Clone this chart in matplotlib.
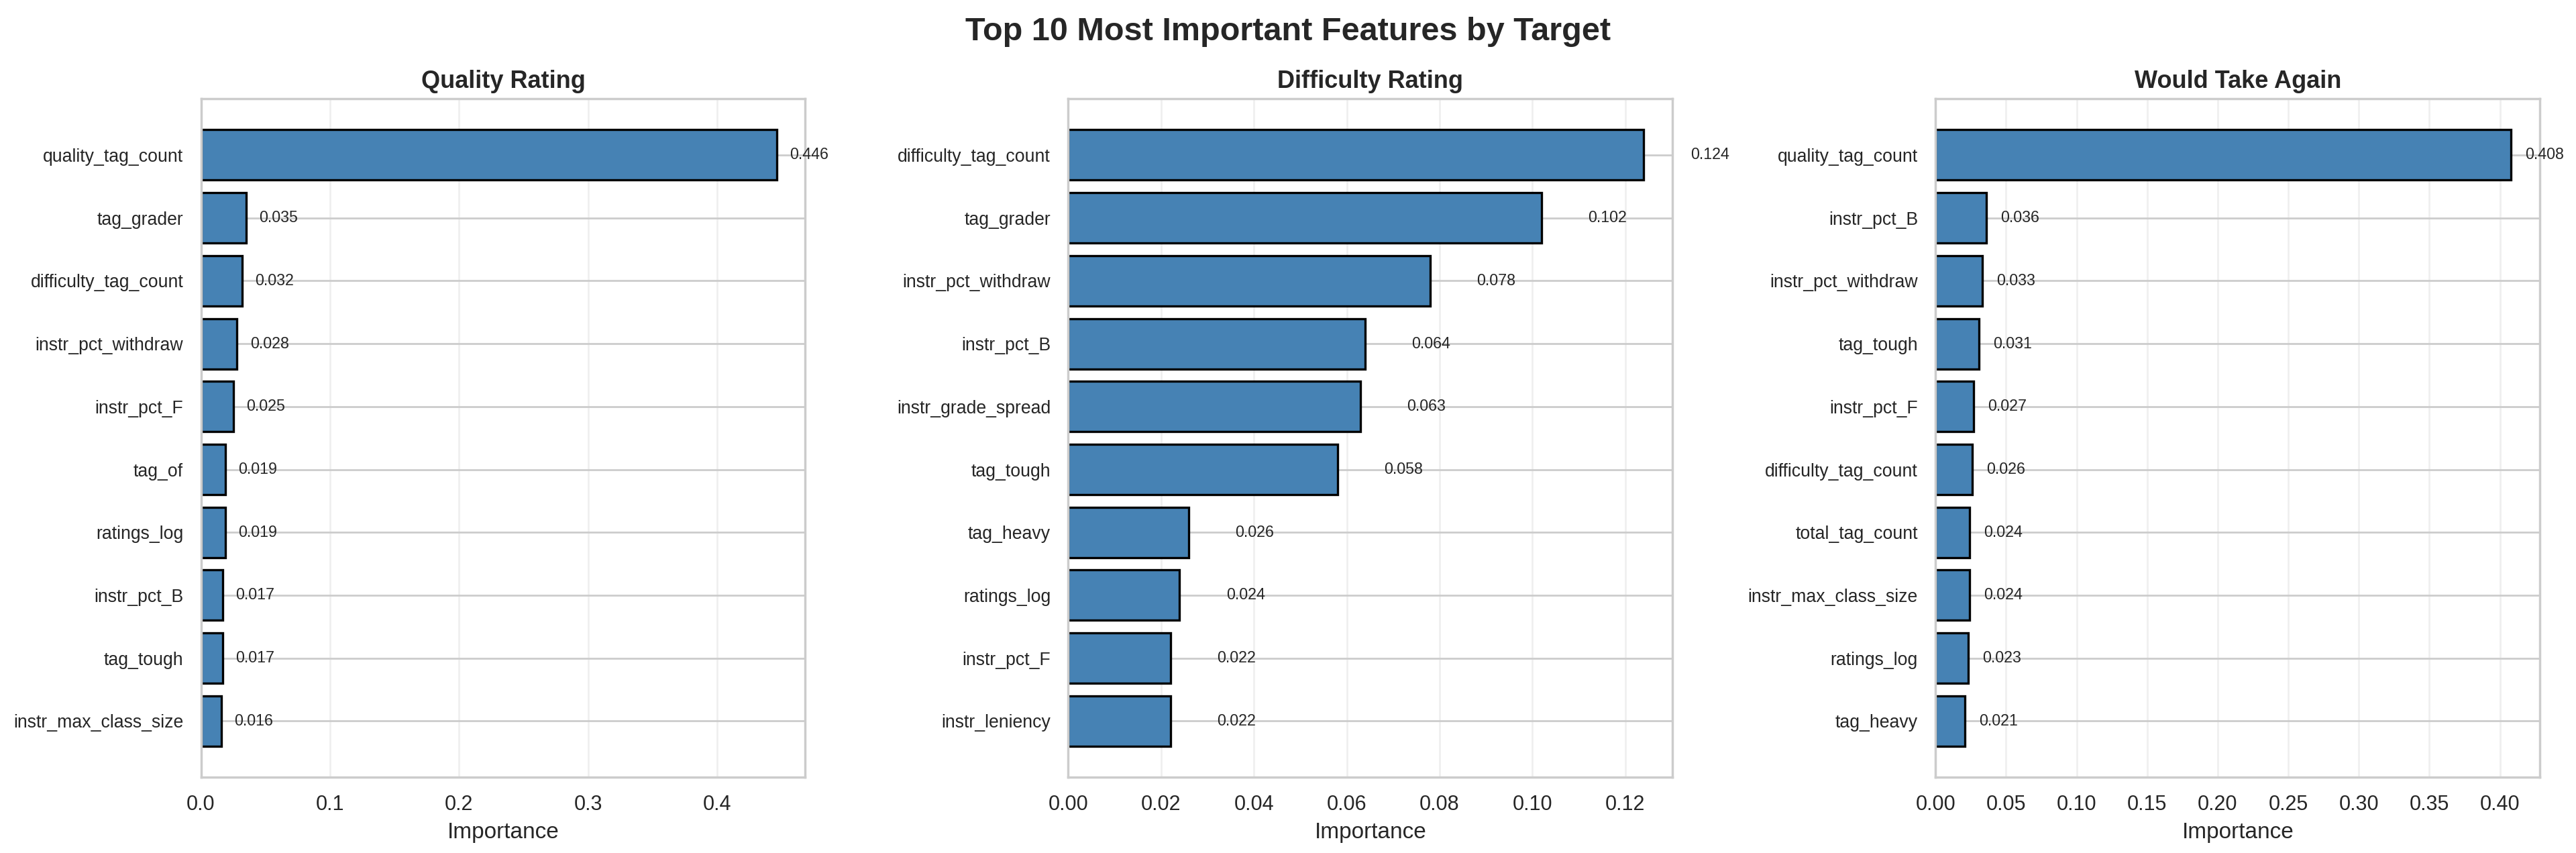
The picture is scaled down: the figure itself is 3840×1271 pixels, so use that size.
import matplotlib
matplotlib.use("Agg")
import matplotlib.pyplot as plt
import seaborn as sns

# dados (top 10 por alvo)
quality_feats = ["quality_tag_count", "tag_grader", "difficulty_tag_count", "instr_pct_withdraw",
                 "instr_pct_F", "tag_of", "ratings_log", "instr_pct_B", "tag_tough", "instr_max_class_size"]
quality_imp = [0.446, 0.035, 0.032, 0.028, 0.025, 0.019, 0.019, 0.017, 0.017, 0.016]

difficulty_feats = ["difficulty_tag_count", "tag_grader", "instr_pct_withdraw", "instr_pct_B",
                    "instr_grade_spread", "tag_tough", "tag_heavy", "ratings_log", "instr_pct_F", "instr_leniency"]
difficulty_imp = [0.124, 0.102, 0.078, 0.064, 0.063, 0.058, 0.026, 0.024, 0.022, 0.022]

again_feats = ["quality_tag_count", "instr_pct_B", "instr_pct_withdraw", "tag_tough", "instr_pct_F",
               "difficulty_tag_count", "total_tag_count", "instr_max_class_size", "ratings_log", "tag_heavy"]
again_imp = [0.408, 0.036, 0.033, 0.031, 0.027, 0.026, 0.024, 0.024, 0.023, 0.021]

titles = ["Quality Rating", "Difficulty Rating", "Would Take Again"]

sns.set_theme(style="whitegrid", context="notebook")
plt.rcParams["font.family"] = ["Liberation Sans", "DejaVu Sans"]

fig, axes = plt.subplots(1, 3, figsize=(19.2, 6.355), dpi=200)

for ax, feats, imp, title in zip(axes,
                                 [quality_feats, difficulty_feats, again_feats],
                                 [quality_imp, difficulty_imp, again_imp],
                                 titles):
    pos = list(range(len(feats)))
    ax.barh(pos, imp, color="steelblue", edgecolor="black", linewidth=1.2)
    ax.set_yticks(pos)
    ax.set_yticklabels(feats, fontsize=9.6)
    ax.invert_yaxis()
    ax.set_xlabel("Importance", fontsize=12)
    ax.set_title(title, fontsize=13, fontweight="bold")
    ax.grid(axis="x", alpha=0.3)
    for p, v in zip(pos, imp):
        ax.text(v + 0.01, p, f"{v:.3f}", va="center", ha="left", fontsize=8.4)

fig.suptitle("Top 10 Most Important Features by Target", fontsize=17.5, fontweight="bold")
plt.subplots_adjust(left=0.078, right=0.986, bottom=0.089, top=0.884, wspace=0.435)
plt.savefig("out.png", dpi=200)
